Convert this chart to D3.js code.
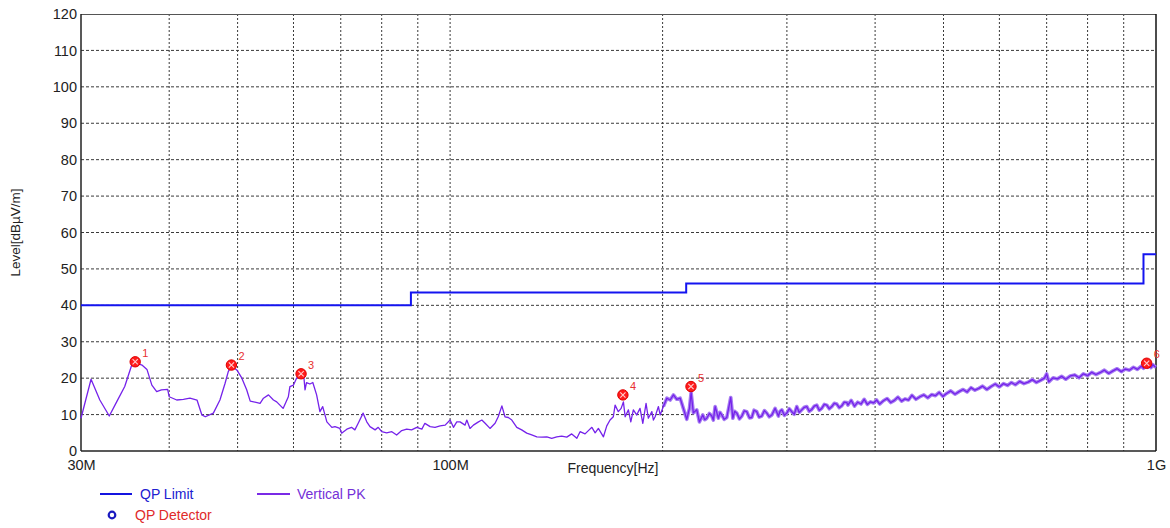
<!DOCTYPE html>
<html><head><meta charset="utf-8">
<script src="https://cdn.jsdelivr.net/npm/d3@7"></script>
<style>
html,body{margin:0;padding:0;background:#fff;}
svg{display:block;font-family:"Liberation Sans",Arial,sans-serif;}
</style></head>
<body>
<svg id="chart" width="1170" height="528"></svg>
<script>
// ---------------- data ----------------
const yTicks = [0,10,20,30,40,50,60,70,80,90,100,110,120];
const gridFreqs = [40,50,60,70,80,90,100,200,300,400,500,600,700,800,900];
const xLabelFreqs = [30,100,1000];
const xLabelTexts = ["30M","100M","1G"];

const limitFreqs  = [30,88,88,216,216,960,960,1000];
const limitLevels = [40,40,43.5,43.5,46,46,54,54];

const pkFreqs = [
30.0,31.0,31.9,32.9,33.7,34.6,35.4,35.8,36.6,37.2,37.8,38.4,39.0,39.8,40.0,41.0,41.9,42.8,43.8,44.5,
45.0,46.2,47.2,48.0,48.5,49.0,49.9,50.7,51.5,52.1,53.8,54.4,55.3,56.2,56.8,58.0,59.0,59.3,60.0,60.6,
61.5,62.0,62.3,62.6,63.3,63.9,64.7,65.4,66.0,66.9,68.0,68.7,69.8,70.2,71.4,72.5,73.3,74.1,75.3,76.2,
77.0,78.3,79.1,80.0,81.3,82.7,84.0,85.4,86.8,88.2,89.7,91.2,92.1,93.7,95.2,96.8,98.4,100.0,101.1,102.2,
103.3,105.0,105.6,106.7,107.9,109.7,110.9,112.1,113.9,115.8,117.0,118.4,119.6,120.9,122.3,124.3,126.3,128.4,130.5,132.7,
134.9,137.1,139.3,141.6,143.9,146.3,148.7,151.2,152.8,155.3,157.0,158.8,160.5,162.2,164.9,166.7,168.5,170.3,171.3,173.1,
174.7,176.0,177.0,178.9,180.3,181.8,183.8,185.8,187.5,189.5,190.9,192.0,193.1,194.1,195.2,196.2,197.3,198.4,200.5,202.8,
205.0,207.2,209.5,211.8,214.0,216.4,218.3,219.5,221.1,223.6,225.5,228.0,229.5,231.0,233.0,234.8,236.0,237.4,239.9,241.2,
242.6,244.5,246.6,249.8,251.5,253.0,254.8,257.0,259.0,261.0,263.2,265.5,267.5,269.5,271.9,274.0,276.4,278.8,281.0,283.2,
285.6,288.7,291.8,293.4,295.1,297.5,299.9,302.3,304.8,307.3,309.8,312.3,314.9,317.5,320.1,322.7,325.3,328.0,330.7,333.4,
336.1,338.9,341.7,344.5,347.3,350.1,353.0,355.9,358.8,361.7,364.7,
366,370,374,378,382,386,390,394,398,402,406,411,416,421,426,431,436,441,446,451,
457,463,469,475,481,487,493,499,505,512,519,526,533,540,547,554,561,568,576,584,
592,600,608,616,624,632,641,650,659,668,677,686,695,700,705,715,725,735,745,756,
767,778,789,800,811,822,833,845,857,869,881,893,905,917,929,941,953,960,966,972,
978,984,990,996,1000
];
const pkLevels = [
9.0,19.7,14.0,9.6,13.5,17.7,23.6,24.3,23.6,22.4,18.1,16.3,16.8,16.9,14.9,14.0,14.2,14.5,14.0,9.9,
9.4,10.4,14.0,18.6,21.8,23.4,22.2,20.0,16.8,13.7,13.1,14.5,15.4,14.0,13.5,11.7,14.9,17.7,18.1,20.0,
21.0,21.3,16.8,18.8,18.4,18.8,15.4,10.8,12.2,8.0,6.5,6.7,6.2,4.9,6.0,6.5,5.8,7.6,10.4,8.0,
6.7,5.8,6.5,5.3,5.0,5.3,4.4,5.6,6.0,5.8,6.5,6.0,7.6,6.7,6.5,6.9,7.1,8.5,6.5,8.0,
8.0,7.1,8.5,6.2,7.1,8.0,8.5,7.6,6.2,7.6,9.4,12.4,9.4,9.2,8.5,6.5,5.8,4.9,4.4,3.9,
3.8,3.9,3.5,3.9,4.1,3.8,4.7,3.5,5.3,4.7,5.6,6.5,5.0,6.2,3.9,6.9,8.5,9.4,12.6,10.8,
11.7,13.5,9.4,11.3,8.0,11.3,9.9,11.7,7.6,13.1,9.0,9.9,10.8,8.5,9.4,10.8,12.2,9.9,12.2,14.5,
14.0,15.4,14.2,14.5,11.7,8.7,11.7,16.0,10.5,11.3,8.0,9.9,8.6,9.0,10.3,9.6,8.5,12.2,9.0,10.6,
9.9,8.7,9.2,14.7,9.0,10.9,10.4,8.8,9.6,11.0,10.8,9.1,9.2,11.2,10.8,9.3,9.6,11.1,10.4,9.4,
9.9,11.7,9.6,10.9,11.3,9.8,10.4,11.6,10.8,10.1,12.2,10.6,11.3,12.0,12.2,10.9,11.4,12.3,12.6,11.2,
11.7,12.8,12.6,11.6,12.2,13.1,12.9,11.9,12.4,13.4,13.3,
12.6,13.9,12.3,13.4,12.9,14.2,12.8,13.5,13.2,14.0,12.9,13.8,14.4,13.3,13.9,14.8,13.7,14.3,14.0,15.3,
14.2,14.9,15.4,14.6,15.5,15.2,16.1,15.0,15.8,16.5,15.6,16.3,16.9,16.2,17.4,16.7,17.2,17.8,16.9,17.7,
18.4,17.6,18.5,18.0,18.8,18.2,19.1,18.5,18.9,19.6,18.8,19.4,20.0,21.2,19.0,20.1,19.8,20.5,19.7,20.6,
20.9,20.1,21.2,20.7,21.6,21.0,21.5,22.2,21.3,22.0,22.6,21.8,22.5,22.2,23.0,22.4,23.3,22.7,23.6,23.0,
23.4,22.9,23.7,23.2,23.0
];

const markerIds    = ["1","2","3","4","5","6"];
const markerFreqs  = [35.8,49.0,61.5,175.7,219.4,970];
const markerLevels = [24.5,23.6,21.2,15.4,17.7,24.1];

// ---------------- layout ----------------
const svg = d3.select("#chart");
const L = 81, R = 1156, T = 14, B = 451;
const x = d3.scaleLog().domain([30,1000]).range([L,R]);
const y = d3.scaleLinear().domain([0,120]).range([B,T]);

// grid
const grid = svg.append("g");
grid.selectAll("line.h").data(yTicks.filter(v=>v>0 && v<120)).enter().append("line")
  .attr("x1",L).attr("x2",R).attr("y1",d=>y(d)).attr("y2",d=>y(d))
  .attr("stroke","#3a3a3a").attr("stroke-width",1).attr("stroke-dasharray","3,2");
grid.selectAll("line.v").data(gridFreqs).enter().append("line")
  .attr("x1",d=>x(d)).attr("x2",d=>x(d)).attr("y1",T).attr("y2",B)
  .attr("stroke","#3a3a3a").attr("stroke-width",1).attr("stroke-dasharray","2,2");

// frame
svg.append("line").attr("x1",L).attr("x2",R).attr("y1",T+0.5).attr("y2",T+0.5).attr("stroke","#555").attr("stroke-width",1.2);
svg.append("line").attr("x1",L).attr("x2",R).attr("y1",B).attr("y2",B).attr("stroke","#222").attr("stroke-width",1.5);
svg.append("line").attr("x1",L).attr("x2",L).attr("y1",T).attr("y2",B).attr("stroke","#222").attr("stroke-width",1.5);
svg.append("line").attr("x1",R).attr("x2",R).attr("y1",T).attr("y2",B).attr("stroke","#111").attr("stroke-width",1.5);

// y axis labels
const yAxis = d3.axisLeft(y).tickValues(yTicks).tickSize(0).tickPadding(4);
const ya = svg.append("g").attr("transform",`translate(${L},0)`).call(yAxis);
ya.select(".domain").remove();
ya.selectAll("text").attr("font-size",14.5).attr("fill","#222").attr("font-family","Liberation Sans, Arial, sans-serif");

// x axis labels
const xAxis = d3.axisBottom(x).tickValues(xLabelFreqs).tickFormat((d,i)=>xLabelTexts[i]).tickSize(0).tickPadding(9);
const xa = svg.append("g").attr("transform",`translate(0,${B})`).call(xAxis);
xa.select(".domain").remove();
xa.selectAll("text").attr("font-size",14.5).attr("fill","#222").attr("font-family","Liberation Sans, Arial, sans-serif");

// axis titles
svg.append("text").attr("transform",`translate(20,${(T+B)/2}) rotate(-90)`)
  .attr("text-anchor","middle").attr("font-size",13.5).attr("fill","#222").text("Level[dBµV/m]");
svg.append("text").attr("x",613).attr("y",473).attr("text-anchor","middle")
  .attr("font-size",14).attr("fill","#222").text("Frequency[Hz]");

// limit line
const limitData = limitFreqs.map((f,i)=>[f,limitLevels[i]]);
svg.append("path").datum(limitData)
  .attr("d",d3.line().x(d=>x(d[0])).y(d=>y(d[1])))
  .attr("fill","none").attr("stroke","#1414f0").attr("stroke-width",2);

// PK trace
const pkData = pkFreqs.map((f,i)=>[f,pkLevels[i]]);
const pkLine = d3.line().x(d=>x(d[0])).y(d=>y(d[1]));
svg.append("path").datum(pkData.filter(d=>d[0]>=200)).attr("d",pkLine)
  .attr("fill","none").attr("stroke","#a77ef2").attr("stroke-width",3.6).attr("stroke-linejoin","round");
svg.append("path").datum(pkData).attr("d",pkLine)
  .attr("fill","none").attr("stroke","#7522ea").attr("stroke-width",1.3).attr("stroke-linejoin","round");

// markers
const mk = svg.append("g").selectAll("g").data(markerIds).enter().append("g")
  .attr("transform",(d,i)=>`translate(${x(markerFreqs[i])},${y(markerLevels[i])})`);
mk.append("circle").attr("r",5.2).attr("fill","#ff1c1c").attr("stroke","#e00000").attr("stroke-width",1);
mk.append("path").attr("d","M-2.6,-2.6L2.6,2.6M-2.6,2.6L2.6,-2.6").attr("stroke","#ffd0d0").attr("stroke-width",1.1);
mk.append("text").attr("x",7).attr("y",-5).attr("font-size",11).attr("fill","#e83030").text(d=>d);

// legend
const lg = svg.append("g");
lg.append("line").attr("x1",100).attr("x2",132).attr("y1",494).attr("y2",494).attr("stroke","#1414e0").attr("stroke-width",2);
lg.append("text").attr("x",140).attr("y",499).attr("font-size",14).attr("fill","#2020d0").text("QP Limit");
lg.append("line").attr("x1",257).attr("x2",290).attr("y1",494).attr("y2",494).attr("stroke","#7a2ae6").attr("stroke-width",2);
lg.append("text").attr("x",297).attr("y",499).attr("font-size",14).attr("fill","#7430d8").text("Vertical PK");
lg.append("circle").attr("cx",112).attr("cy",515).attr("r",3.3).attr("fill","none").attr("stroke","#1a1ac0").attr("stroke-width",2.2);
lg.append("text").attr("x",135).attr("y",520).attr("font-size",14).attr("fill","#e02a2a").text("QP Detector");
</script>
</body></html>
